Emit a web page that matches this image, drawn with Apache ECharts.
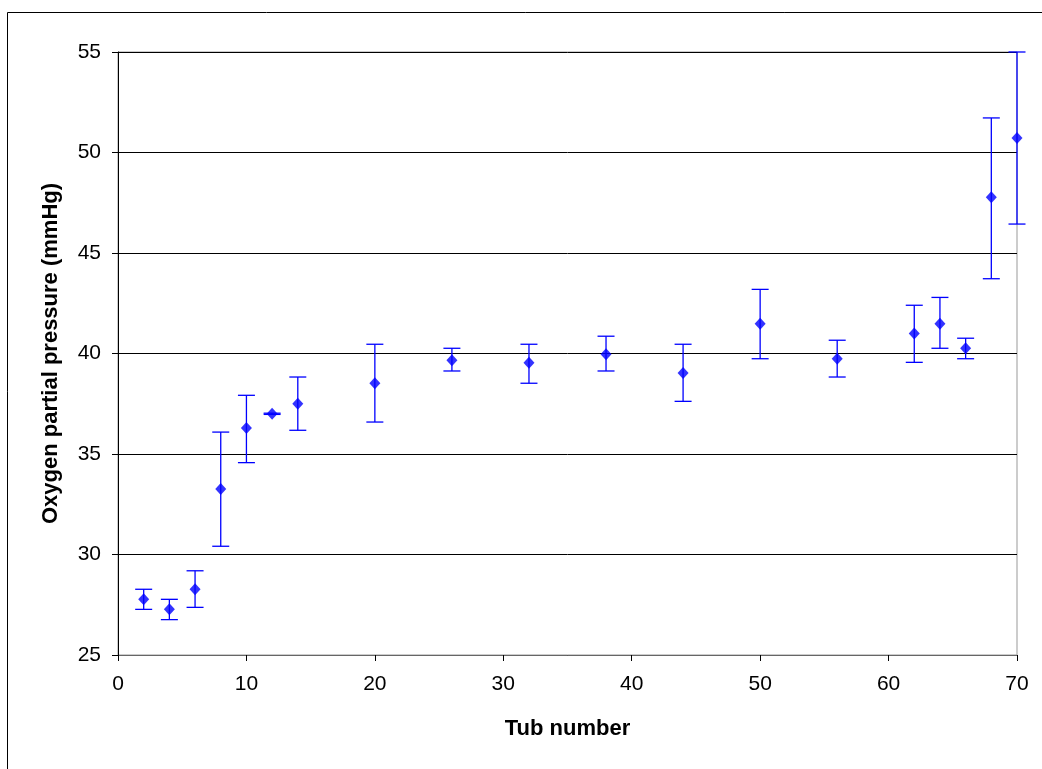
<!DOCTYPE html>
<html>
<head>
<meta charset="utf-8">
<script src="https://cdn.jsdelivr.net/npm/echarts@6/dist/echarts.min.js"></script>
<style>html,body{margin:0;padding:0;background:#fff}#c{width:1042px;height:769px}</style>
</head>
<body>
<div id="c"></div>
<script>
var tubs = [2, 4, 6, 8, 10, 12, 14, 20, 26, 32, 38, 44, 50, 56, 62, 64, 66, 68, 70];
var pressure = [27.77, 27.27, 28.27, 33.26, 36.29, 37.0, 37.5, 38.52, 39.66, 39.54, 39.96, 39.03, 41.48, 39.74, 40.99, 41.48, 40.26, 47.77, 50.72];
var errUp = [0.5, 0.5, 0.92, 2.83, 1.63, 0.03, 1.33, 1.94, 0.6, 0.92, 0.9, 1.43, 1.71, 0.92, 1.41, 1.31, 0.5, 3.95, 4.28];
var errDown = [0.5, 0.51, 0.9, 2.85, 1.72, 0.03, 1.32, 1.93, 0.53, 1.02, 0.83, 1.41, 1.74, 0.91, 1.43, 1.22, 0.52, 4.05, 4.28];
var yTicks = [25, 30, 35, 40, 45, 50, 55];
var xTicks = [0, 10, 20, 30, 40, 50, 60, 70];

var errData = tubs.map(function (t, i) { return [t, pressure[i] - errDown[i], pressure[i] + errUp[i]]; });
var ptData = tubs.map(function (t, i) { return [t, pressure[i]]; });

var chart = echarts.init(document.getElementById('c'), null, {renderer: 'canvas'});
var font = '"Liberation Sans", Arial, sans-serif';
chart.setOption({
  animation: false,
  backgroundColor: '#fff',
  graphic: [{
    type: 'rect', shape: {x: 7.5, y: 12.5, width: 1100, height: 800},
    style: {fill: 'none', stroke: '#000', lineWidth: 1}, silent: true, z: -10
  }],
  grid: {left: 118, top: 52, right: 25, bottom: 114, containLabel: false,
    show: true, borderColor: '#999', borderWidth: 1, backgroundColor: 'transparent'},
  xAxis: {
    type: 'value', min: 0, max: 70, interval: 10,
    name: 'Tub number', nameLocation: 'middle', nameGap: 63,
    nameTextStyle: {fontFamily: font, fontSize: 22, fontWeight: 'bold', color: '#000'},
    axisLine: {show: true, lineStyle: {color: '#666', width: 1}},
    axisTick: {show: true, inside: false, length: 6, lineStyle: {color: '#000'}},
    axisLabel: {fontFamily: font, fontSize: 21, color: '#000', margin: 19,
      formatter: function (v) { return xTicks.indexOf(v) >= 0 ? String(v) : ''; }},
    splitLine: {show: false}
  },
  yAxis: {
    type: 'value', min: 25, max: 55, interval: 5,
    name: 'Oxygen partial pressure (mmHg)', nameLocation: 'middle', nameGap: 56,
    nameTextStyle: {fontFamily: font, fontSize: 22, fontWeight: 'bold', color: '#000'},
    axisLine: {show: true, lineStyle: {color: '#000', width: 1}},
    axisTick: {show: true, inside: false, length: 6, lineStyle: {color: '#000'}},
    axisLabel: {fontFamily: font, fontSize: 21, color: '#000', margin: 17,
      formatter: function (v) { return yTicks.indexOf(v) >= 0 ? String(v) : ''; }},
    splitLine: {show: true, lineStyle: {color: '#000', width: 1}}
  },
  series: [{
    type: 'custom',
    data: errData,
    clip: false,
    z: 2,
    renderItem: function (params, api) {
      var x = api.value(0);
      var lo = api.coord([x, api.value(1)]);
      var hi = api.coord([x, api.value(2)]);
      var w = 8.5;
      var style = {stroke: '#0000ff', lineWidth: 1.3, fill: 'none'};
      return {type: 'group', children: [
        {type: 'line', shape: {x1: hi[0], y1: hi[1], x2: lo[0], y2: lo[1]}, style: style},
        {type: 'line', shape: {x1: hi[0] - w, y1: hi[1], x2: hi[0] + w, y2: hi[1]}, style: style},
        {type: 'line', shape: {x1: lo[0] - w, y1: lo[1], x2: lo[0] + w, y2: lo[1]}, style: style}
      ]};
    }
  }, {
    type: 'scatter',
    data: ptData,
    symbol: 'diamond',
    symbolSize: [11, 12],
    itemStyle: {color: '#0000ff'},
    z: 3
  }]
});
</script>
</body>
</html>
